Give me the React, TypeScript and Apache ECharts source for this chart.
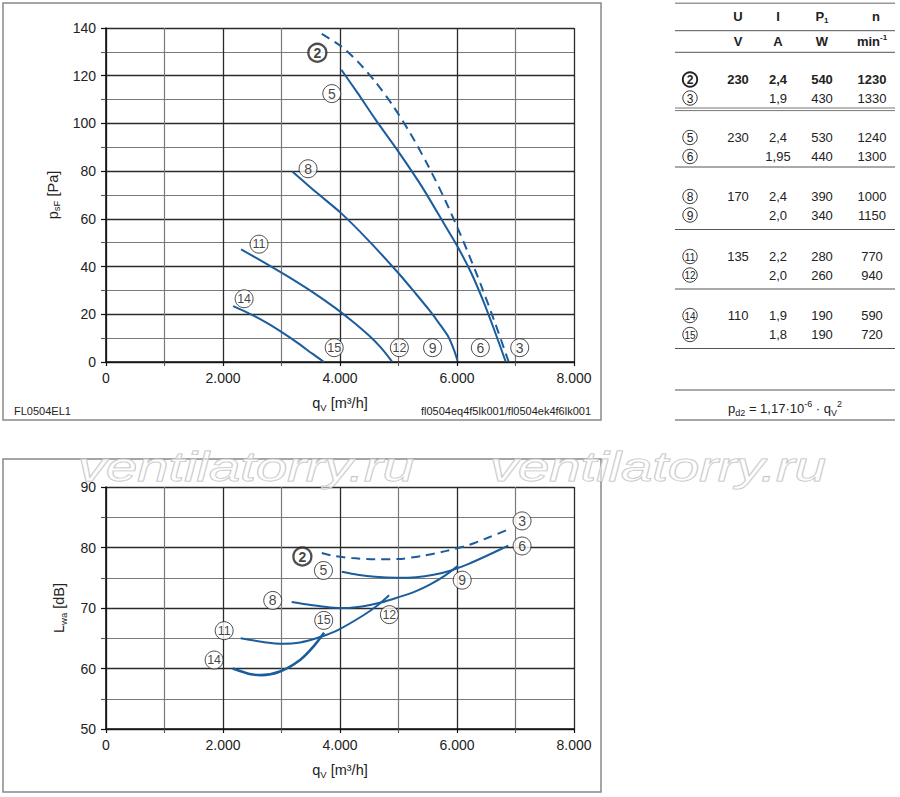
import React, { useEffect, useRef } from 'react';
import * as echarts from 'echarts';

const BLUE = '#1b5d9c';
const FONT = '"Liberation Sans", Arial, Helvetica, sans-serif';

// ---- Pressure curves p_sF [Pa] vs q_V [m³/h] ----
const psf2: number[][] = [[3688, 137.5], [4023, 132.3], [4300, 126.0], [4600, 117.6], [4900, 107.6], [5200, 95.9], [5500, 82.6], [5800, 67.7], [6100, 51.1], [6400, 32.9], [6650, 16.4], [6880, 0.3]];
const psf5: number[][] = [[4023, 122.5], [4300, 112.8], [4611, 101.5], [5004, 88.0], [5400, 73.5], [5789, 57.5], [6018, 48.0], [6250, 37.0], [6450, 25.5], [6639, 13.3], [6830, 0.3]];
const psf8: number[][] = [[3185, 79.9], [3600, 71.0], [4023, 62.3], [4481, 51.1], [5004, 37.1], [5300, 28.5], [5527, 21.7], [5700, 16.0], [5854, 10.5], [5950, 5.0], [6010, 0.5]];
const psf11: number[][] = [[2309, 47.2], [2700, 41.8], [3100, 36.0], [3500, 29.8], [3900, 23.0], [4200, 17.3], [4500, 11.0], [4700, 6.0], [4886, 0.3]];
const psf14: number[][] = [[2172, 23.4], [2450, 20.3], [2750, 16.4], [3050, 11.8], [3300, 7.6], [3520, 3.6], [3728, 0]];

// ---- Sound power curves L_wa [dB] vs q_V [m³/h] ----
const lwa2: number[][] = [[3688, 79.1], [3900, 78.6], [4200, 78.25], [4600, 78.05], [5000, 78.1], [5400, 78.6], [5800, 79.4], [6200, 80.4], [6550, 81.7], [6884, 83.0]];
const lwa5: number[][] = [[4031, 76.0], [4300, 75.5], [4600, 75.15], [4973, 75.0], [5300, 75.1], [5600, 75.5], [5900, 76.2], [6200, 77.3], [6500, 78.6], [6877, 80.3]];
const lwa8: number[][] = [[3174, 71.0], [3500, 70.5], [3832, 70.1], [4100, 70.0], [4401, 70.3], [4700, 70.9], [4973, 71.7], [5280, 72.7], [5543, 73.9], [5800, 75.4], [6020, 77.0]];
const lwa11: number[][] = [[2302, 65.0], [2746, 64.3], [3003, 64.1], [3317, 64.3], [3659, 65.2], [3972, 66.4], [4401, 68.8], [4650, 70.5], [4840, 72.1]];
const lwa14: number[][] = [[2166, 60.0], [2454, 59.1], [2654, 58.9], [2974, 59.5], [3317, 61.4], [3545, 63.6], [3728, 65.9]];

// ---- Curve markers (id, q_V, value) ----
const topMarkers: [string, number, number][] = [
  ['2', 3613, 129.6], ['5', 3860, 112.5], ['8', 3454, 81.0], ['11', 2616, 49.4], ['14', 2361, 26.5],
  ['15', 3901, 6.0], ['12', 5015, 6.0], ['9', 5582, 6.0], ['6', 6399, 6.0], ['3', 7072, 6.0],
];
const bottomMarkers: [string, number, number][] = [
  ['3', 7112, 84.4], ['6', 7112, 80.25], ['2', 3357, 78.5], ['5', 3717, 76.2], ['9', 6089, 74.6],
  ['8', 2850, 71.25], ['12', 4844, 68.9], ['15', 3722, 67.95], ['11', 2020, 66.25], ['14', 1848, 61.4],
];

// ---- Table ----
const tableIds = ['2', '3', '5', '6', '8', '9', '11', '12', '14', '15'];
const tableU = ['230', '', '230', '', '170', '', '135', '', '110', ''];
const tableI = ['2,4', '1,9', '2,4', '1,95', '2,4', '2,0', '2,2', '2,0', '1,9', '1,8'];
const tableP = ['540', '430', '530', '440', '390', '340', '280', '260', '190', '190'];
const tableN = ['1230', '1330', '1240', '1300', '1000', '1150', '770', '940', '590', '720'];

const richName = {
  m: { fontSize: 14.5, fontFamily: FONT, color: '#222', lineHeight: 18, verticalAlign: 'middle' },
  s: { fontSize: 9.5, fontFamily: FONT, color: '#222', lineHeight: 8, verticalAlign: 'bottom' },
};

function xAxisFor(gridIndex: number) {
  return {
    type: 'value', gridIndex, min: 0, max: 8000, interval: 2000,
    axisLine: { show: true, onZero: false, lineStyle: { color: '#111', width: 1.6 } },
    axisTick: { show: true, length: 4, lineStyle: { color: '#111', width: 1.2 } },
    minorTick: { show: true, splitNumber: 2, length: 4, lineStyle: { color: '#555', width: 1.1 } },
    splitLine: { show: true, lineStyle: { color: '#2a2a2a', width: 1.3 } },
    minorSplitLine: { show: true, lineStyle: { color: '#7a7a7a', width: 1.2 } },
    axisLabel: {
      margin: 9, fontSize: 14, color: '#222', fontFamily: FONT,
      formatter: (v: number) => (v === 0 ? '0' : `${v / 1000}.000`),
    },
    name: '{m|q}{s|V}{m| [m³/h]}', nameLocation: 'middle', nameGap: 32,
    nameTextStyle: { rich: richName },
  };
}

function yAxisFor(gridIndex: number, min: number, max: number, interval: number, name: string) {
  return {
    type: 'value', gridIndex, min, max, interval,
    axisLine: { show: true, onZero: false, lineStyle: { color: '#111', width: 1.6 } },
    axisTick: { show: true, length: 5, lineStyle: { color: '#111', width: 1.2 } },
    minorTick: { show: true, splitNumber: 2, length: 5, lineStyle: { color: '#555', width: 1.1 } },
    splitLine: { show: true, lineStyle: { color: '#2a2a2a', width: 1.3 } },
    minorSplitLine: { show: true, lineStyle: { color: '#7a7a7a', width: 1.2 } },
    axisLabel: { margin: 10, fontSize: 14, color: '#222', fontFamily: FONT },
    name, nameLocation: 'middle', nameGap: 38,
    nameTextStyle: { rich: richName },
  };
}

function curve(data: number[][], xi: number, dashed = false, width = 2) {
  return {
    type: 'line', xAxisIndex: xi, yAxisIndex: xi, data, smooth: 0.25,
    showSymbol: false, symbol: 'none',
    lineStyle: { color: BLUE, width, type: dashed ? [9, 6] : 'solid' },
    z: 3, silent: true,
  };
}

function markers(list: [string, number, number][], xi: number) {
  return {
    type: 'scatter', xAxisIndex: xi, yAxisIndex: xi, z: 5, silent: true,
    symbol: 'circle', symbolSize: 18,
    data: list.map(([id, x, y]) => ({
      name: id, value: [x, y],
      itemStyle: { color: '#fff', borderColor: '#222', borderWidth: id === '2' ? 2.3 : 1 },
      label: {
        show: true, position: 'inside', formatter: '{b}', fontFamily: FONT,
        fontSize: id.length > 1 ? 12.5 : 14, color: '#111', fontWeight: id === '2' ? 'bold' : 'normal',
      },
    })),
  };
}

function buildGraphics() {
  const els: any[] = [];
  // frames
  els.push({ type: 'rect', shape: { x: 3, y: 3, width: 598, height: 417 }, style: { fill: 'none', stroke: '#888', lineWidth: 1.5 }, silent: true });
  els.push({ type: 'rect', shape: { x: 3, y: 459, width: 598, height: 333 }, style: { fill: 'none', stroke: '#888', lineWidth: 1.5 }, silent: true });
  // footer texts
  els.push({ type: 'text', x: 14, y: 411, style: { text: 'FL0504EL1', font: `11px ${FONT}`, fill: '#222', align: 'left', verticalAlign: 'middle', textAlign: 'left', textVerticalAlign: 'middle' } });
  els.push({ type: 'text', x: 591, y: 411, style: { text: 'fl0504eq4f5lk001/fl0504ek4f6lk001', font: `11px ${FONT}`, fill: '#222', align: 'right', verticalAlign: 'middle', textAlign: 'right', textVerticalAlign: 'middle' } });

  // table lines
  const lines: [number, string, number][] = [
    [3.3, '#999', 1.5], [30.7, '#555', 1], [52.3, '#555', 1], [108, '#777', 1], [110.6, '#777', 1],
    [167, '#555', 1], [229.5, '#555', 1], [289, '#555', 1], [348.5, '#555', 1], [390, '#555', 1], [420, '#888', 1.5],
  ];
  lines.forEach(([y, c, w]) => els.push({ type: 'line', shape: { x1: 675, y1: y, x2: 895, y2: y }, style: { stroke: c, lineWidth: w }, silent: true }));

  const tt = (text: string, x: number, y: number, bold = false, size = 13) => ({
    type: 'text', x, y,
    style: { text, font: `${bold ? 'bold ' : ''}${size}px ${FONT}`, fill: '#222', align: 'center', verticalAlign: 'middle', textAlign: 'center', textVerticalAlign: 'middle' },
  });
  const colX = [738, 778, 822, 872];
  // header
  els.push(tt('U', colX[0], 16.5, true));
  els.push(tt('I', colX[1], 16.5, true));
  els.push({
    type: 'text', x: colX[2], y: 16.5,
    style: {
      text: '{b|P}{s|1}', align: 'center', verticalAlign: 'middle', textAlign: 'center', textVerticalAlign: 'middle',
      rich: { b: { font: `bold 13px ${FONT}`, fill: '#222', lineHeight: 16, verticalAlign: 'middle' }, s: { font: `bold 8px ${FONT}`, fill: '#222', lineHeight: 8, verticalAlign: 'bottom' } },
    },
  });
  els.push(tt('n', 876, 16.5, true));
  els.push(tt('V', colX[0], 41.7, true));
  els.push(tt('A', colX[1], 41.7, true));
  els.push(tt('W', colX[2], 41.7, true));
  els.push({
    type: 'text', x: 872, y: 41.7,
    style: {
      text: '{b|min}{s|-1}', align: 'center', verticalAlign: 'middle', textAlign: 'center', textVerticalAlign: 'middle',
      rich: { b: { font: `bold 13px ${FONT}`, fill: '#222', lineHeight: 16, verticalAlign: 'middle' }, s: { font: `bold 8px ${FONT}`, fill: '#222', lineHeight: 8, verticalAlign: 'top' } },
    },
  });

  const rowY = [79.5, 98, 137.5, 156.5, 196.5, 215, 256.5, 275, 315.5, 334.5];
  tableIds.forEach((id, i) => {
    const y = rowY[i];
    const bold = i === 0;
    els.push({ type: 'circle', shape: { cx: 690, cy: y, r: 7.2 }, style: { fill: '#fff', stroke: '#222', lineWidth: bold ? 1.9 : 0.9 }, silent: true });
    els.push(tt(id, 690, y + 0.5, bold, id.length > 1 ? 10 : 12));
    if (tableU[i]) els.push(tt(tableU[i], colX[0], y, bold));
    els.push(tt(tableI[i], colX[1], y, bold));
    els.push(tt(tableP[i], colX[2], y, bold));
    els.push(tt(tableN[i], colX[3], y, bold));
  });

  // formula
  els.push({
    type: 'text', x: 785, y: 408,
    style: {
      text: '{m|p}{s|d2}{m| = 1,17·10}{p|-6}{m| · q}{s|V}{p|2}',
      align: 'center', verticalAlign: 'middle', textAlign: 'center', textVerticalAlign: 'middle',
      rich: {
        m: { font: `13px ${FONT}`, fill: '#222', lineHeight: 18, verticalAlign: 'middle' },
        s: { font: `9px ${FONT}`, fill: '#222', lineHeight: 8, verticalAlign: 'bottom' },
        p: { font: `9px ${FONT}`, fill: '#222', lineHeight: 8, verticalAlign: 'top' },
      },
    },
  });

  // watermark
  [78, 490].forEach((x) => {
    els.push({
      type: 'text', x, y: 487, scaleX: 1.37, z: 100, silent: true,
      style: {
        text: 'ventilatorry.ru', font: `italic 41px ${FONT}`, fill: 'rgba(255,255,255,0.55)', stroke: '#bdbdbd', lineWidth: 1,
        align: 'left', verticalAlign: 'bottom', textAlign: 'left', textVerticalAlign: 'bottom',
      },
    });
  });
  return els;
}

export default function App() {
  const ref = useRef<HTMLDivElement>(null);
  useEffect(() => {
    document.body.style.margin = '0';
    const chart = echarts.init(ref.current!, null, { renderer: 'svg' });
    const option: any = {
      animation: false,
      backgroundColor: '#fff',
      textStyle: { fontFamily: FONT },
      grid: [
        { left: 106, top: 28, width: 468, height: 334, containLabel: false },
        { left: 106, top: 487, width: 468, height: 242, containLabel: false },
      ],
      xAxis: [xAxisFor(0), xAxisFor(1)],
      yAxis: [
        yAxisFor(0, 0, 140, 20, '{m|p}{s|sF}{m| [Pa]}'),
        yAxisFor(1, 50, 90, 10, '{m|L}{s|wa}{m| [dB]}'),
      ],
      series: [
        curve(psf2, 0, true), curve(psf5, 0), curve(psf8, 0), curve(psf11, 0), curve(psf14, 0),
        curve(lwa2, 1, true), curve(lwa5, 1), curve(lwa8, 1), curve(lwa11, 1), curve(lwa14, 1, false, 2.6),
        markers(topMarkers, 0), markers(bottomMarkers, 1),
      ],
      graphic: buildGraphics(),
    };
    chart.setOption(option);
    return () => chart.dispose();
  }, []);
  return <div ref={ref} style={{ position: 'absolute', left: 0, top: 0, width: 900, height: 797, background: '#fff' }} />;
}
